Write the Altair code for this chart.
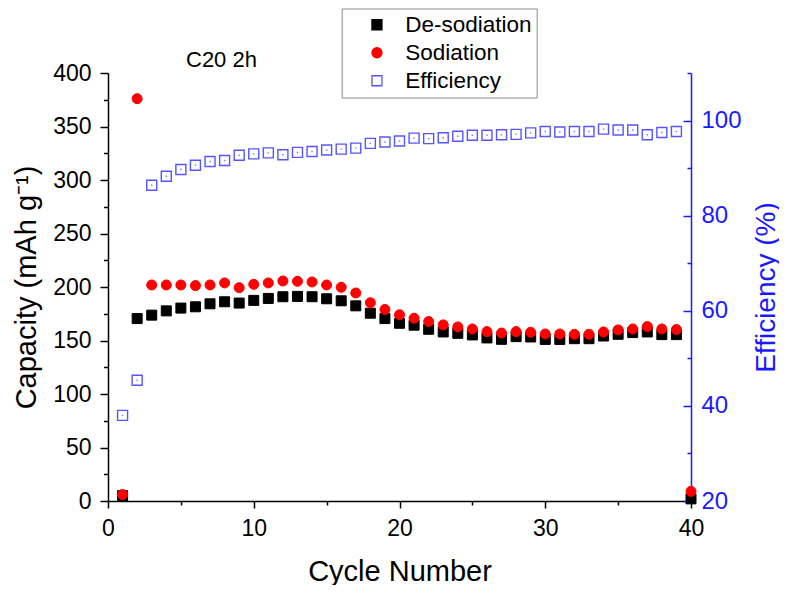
import altair as alt
import pandas as pd

FONT = "Liberation Sans"

cycles = list(range(1, 41))
desodiation = [5, 170.5, 173.7, 177.7, 180.3, 181.5, 184.3, 186.2, 185.0, 187.5,
               189.3, 190.9, 191.2, 190.9, 189.0, 187.1, 182.4, 175.5, 170.5, 166.1,
               164.3, 160.5, 158.0, 156.7, 155.2, 152.4, 151.1, 153.6, 153.3, 151.0,
               151.0, 151.7, 151.7, 154.2, 155.8, 157.4, 158.0, 155.5, 155.5, 2]
sodiation = [6, 376, 201.9, 201.9, 201.9, 201.3, 201.9, 203.8, 199.4, 202.5,
             203.8, 205.6, 205.3, 204.7, 201.9, 199.7, 194.4, 185.3, 179.0, 174.0,
             170.8, 167.7, 164.6, 162.7, 160.8, 158.3, 157.0, 158.3, 157.7, 156.1,
             156.1, 155.8, 155.8, 158.0, 159.9, 160.8, 163.0, 160.8, 160.2, 9]
eff_cycles = list(range(1, 40))
efficiency = [38.0, 45.4, 86.4, 88.3, 89.7, 90.6, 91.4, 91.6, 92.7, 93.0,
              93.2, 92.8, 93.3, 93.5, 93.8, 94.0, 94.2, 95.2, 95.5, 95.7,
              96.3, 96.2, 96.4, 96.7, 96.9, 96.9, 97.0, 97.1, 97.4, 97.7,
              97.6, 97.7, 97.7, 98.2, 98.0, 98.0, 97.0, 97.5, 97.7]

series_names = ["De-sodiation", "Sodiation", "Efficiency"]
annotation = ["C20 2h"]

cap_df = pd.DataFrame({
    "cycle": cycles + cycles,
    "value": desodiation + sodiation,
    "series": [series_names[0]] * len(cycles) + [series_names[1]] * len(cycles),
})
eff_df = pd.DataFrame({
    "cycle": eff_cycles,
    "value": efficiency,
    "series": [series_names[2]] * len(eff_cycles),
})
note_df = pd.DataFrame({"t": annotation})

EFF_BLUE = "#5555ff"
AXIS_BLUE = "#1a1aff"

legend = alt.Legend(
    title=None, orient="none", legendX=233.7, legendY=-64.5,
    labelFont=FONT, labelFontSize=22.5, labelColor="#000000",
    padding=5, rowPadding=5.0, symbolOffset=19, labelOffset=17,
    strokeColor="#8c8c8c", fillColor="#ffffff", symbolStrokeWidth=1.3,
)

shape_enc = alt.Shape("series:N", scale=alt.Scale(domain=series_names, range=["square", "circle", "square"]), legend=legend)
fill_enc = alt.Fill("series:N", scale=alt.Scale(domain=series_names, range=["#000000", "#ff0000", "#ffffff"]), legend=legend)
stroke_enc = alt.Stroke("series:N", scale=alt.Scale(domain=series_names, range=["#000000", "#ff0000", EFF_BLUE]), legend=legend)
size_enc = alt.Size("series:N", scale=alt.Scale(domain=series_names, range=[100, 100, 72]), legend=legend)

x_enc = alt.X(
    "cycle:Q",
    scale=alt.Scale(domain=[0, 40], nice=False, zero=False),
    axis=alt.Axis(
        values=list(range(0, 41, 5)),
        labelExpr="datum.value % 10 === 0 ? datum.label : ''",
        tickSize={"condition": {"test": "datum.value % 10 === 0", "value": 7}, "value": 4},
        labelPadding=9, labelFont=FONT, labelFontSize=23, labelColor="#000000",
        domainColor="#000000", tickColor="#000000", domainWidth=1.5, tickWidth=1.5,
        grid=False, labelFlush=False,
        title="Cycle Number", titleFont=FONT, titleFontSize=29, titleFontWeight="normal",
        titleColor="#000000", titleX=291.5, titleY=70, titleBaseline="middle", titleAlign="center",
    ),
)

cap_layer = alt.Chart(cap_df).mark_point(filled=True, opacity=1, strokeWidth=1).encode(
    x=x_enc,
    y=alt.Y(
        "value:Q",
        scale=alt.Scale(domain=[0, 400], nice=False, zero=False),
        axis=alt.Axis(
            orient="left",
            values=list(range(0, 401, 25)),
            labelExpr="datum.value % 50 === 0 ? datum.label : ''",
            tickSize={"condition": {"test": "datum.value % 50 === 0", "value": 8}, "value": 4.5},
            labelPadding=9, labelFont=FONT, labelFontSize=23, labelColor="#000000",
            domainColor="#000000", tickColor="#000000", domainWidth=1.5, tickWidth=1.5,
            grid=False, labelFlush=False,
            title="Capacity (mAh g\u207b\u00b9)", titleFont=FONT, titleFontSize=29,
            titleFontWeight="normal", titleColor="#000000",
            titleX=-82, titleY=214, titleAngle=270, titleBaseline="middle", titleAlign="center",
        ),
    ),
    shape=shape_enc, fill=fill_enc, stroke=stroke_enc, size=size_enc,
    order=alt.Order("series:N"),
)

eff_layer = alt.Chart(eff_df).mark_point(filled=False, opacity=1, strokeWidth=1.4).encode(
    x=x_enc,
    y=alt.Y(
        "value:Q",
        scale=alt.Scale(domain=[20, 110], nice=False, zero=False),
        axis=alt.Axis(
            orient="right",
            values=list(range(20, 111, 10)),
            labelExpr="datum.value % 20 === 0 ? datum.label : ''",
            tickSize=alt.ExprRef(expr="datum.value % 20 === 0 ? -8 : -4"),
            labelPadding=18, labelFont=FONT, labelFontSize=24, labelColor=AXIS_BLUE,
            domainColor=AXIS_BLUE, tickColor=AXIS_BLUE, domainWidth=1.5, tickWidth=1.5,
            grid=False, labelFlush=False,
            title="Efficiency (%)", titleFont=FONT, titleFontSize=28,
            titleFontWeight="normal", titleColor=AXIS_BLUE,
            titleX=75, titleY=214, titleAngle=270, titleBaseline="middle", titleAlign="center",
        ),
    ),
    shape=shape_enc, fill=fill_enc, stroke=stroke_enc, size=size_enc,
)

eff_dots = alt.Chart(eff_df).mark_point(filled=True, opacity=0.8, shape="square", size=2, color=EFF_BLUE).encode(
    x=alt.X("cycle:Q"),
    y=alt.Y("value:Q"),
)

note_layer = alt.Chart(note_df).mark_text(
    font=FONT, fontSize=22, color="#000000", align="left", baseline="middle"
).encode(
    x=alt.value(78), y=alt.value(-13), text="t:N"
)

chart = alt.layer(cap_layer, alt.layer(eff_layer, eff_dots), note_layer).resolve_scale(
    y="independent"
).properties(
    width=583, height=428,
    padding={"left": 100, "top": 65, "right": 88, "bottom": 84},
    autosize=alt.AutoSizeParams(type="none"),
    background="#ffffff",
).configure_view(stroke=None)

chart.save("out.html", embed_options={"renderer": "svg", "actions": False})
